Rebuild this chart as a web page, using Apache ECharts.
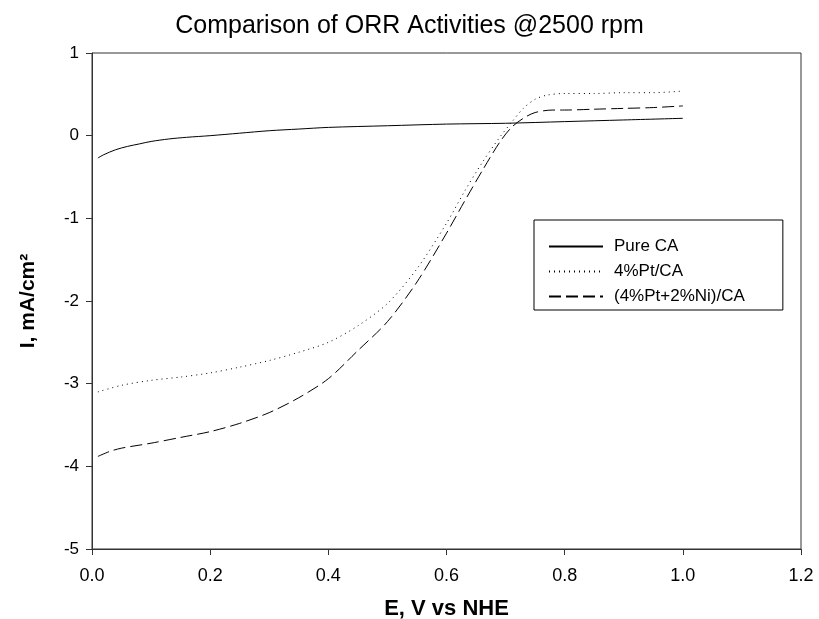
<!DOCTYPE html>
<html>
<head>
<meta charset="utf-8">
<script src="https://cdn.jsdelivr.net/npm/echarts@6/dist/echarts.min.js"></script>
<style>
  html, body { margin: 0; padding: 0; background: #fff; }
  #chart { width: 819px; height: 619px; }
</style>
</head>
<body>
<div id="chart"></div>
<script>
// 曲线数据 (E / V vs NHE, I / mA/cm2)
var pureX = [0.01, 0.02, 0.04, 0.06, 0.08, 0.1, 0.13, 0.16, 0.2, 0.25, 0.3, 0.35, 0.4, 0.5, 0.6, 0.7, 0.8, 0.9, 1.0];
var pureY = [-0.27, -0.23, -0.17, -0.13, -0.1, -0.07, -0.04, -0.02, 0.0, 0.03, 0.06, 0.08, 0.1, 0.12, 0.14, 0.15, 0.17, 0.19, 0.21];

var ptX = [0.01, 0.05, 0.1, 0.15, 0.2, 0.25, 0.3, 0.35, 0.4, 0.45, 0.5, 0.55, 0.6, 0.63, 0.66, 0.69, 0.71, 0.73, 0.75, 0.77, 0.8, 0.85, 0.9, 0.95, 1.0];
var ptY = [-3.10, -3.02, -2.96, -2.92, -2.87, -2.80, -2.72, -2.62, -2.50, -2.30, -2.03, -1.61, -1.06, -0.68, -0.33, -0.02, 0.16, 0.33, 0.44, 0.49, 0.51, 0.51, 0.52, 0.52, 0.54];

var ptniX = [0.01, 0.03, 0.05, 0.1, 0.15, 0.2, 0.25, 0.3, 0.35, 0.4, 0.45, 0.5, 0.55, 0.6, 0.63, 0.66, 0.69, 0.71, 0.73, 0.75, 0.78, 0.8, 0.85, 0.9, 0.95, 1.0];
var ptniY = [-3.88, -3.82, -3.78, -3.72, -3.65, -3.58, -3.48, -3.35, -3.17, -2.94, -2.60, -2.25, -1.77, -1.18, -0.80, -0.43, -0.08, 0.10, 0.21, 0.28, 0.31, 0.31, 0.32, 0.33, 0.34, 0.36];

var seriesNames = ['Pure CA', '4%Pt/CA', '(4%Pt+2%Ni)/CA'];

function pairs(xs, ys) {
    return xs.map(function (x, i) { return [x, ys[i]]; });
}

var myChart = echarts.init(document.getElementById('chart'));

var font = 'Liberation Sans, Arial, sans-serif';
var axisColor = '#333';

option = {
    backgroundColor: '#fff',
    animation: false,
    title: {
        text: 'Comparison of ORR Activities @2500 rpm',
        left: 'center',
        top: 9,
        textStyle: { fontFamily: font, fontSize: 25, fontWeight: 'normal', color: '#000' }
    },
    grid: {
        left: 92, right: 18, top: 53, bottom: 70,
        outerBoundsMode: 'none',
        show: true, borderColor: axisColor, borderWidth: 1
    },
    legend: {
        orient: 'vertical',
        left: 534, top: 220,
        padding: [18, 38, 5, 14],
        itemGap: 8,
        itemWidth: 54, itemHeight: 14,
        borderColor: '#000', borderWidth: 1,
        // 只画线, 不画圆点
        itemStyle: { opacity: 0 },
        textStyle: { fontFamily: font, fontSize: 17, color: '#000', width: 165, padding: [0, 0, 0, 6] },
        data: seriesNames
    },
    xAxis: {
        type: 'value',
        min: 0, max: 1.2, interval: 0.2,
        name: 'E, V vs NHE',
        nameLocation: 'middle',
        nameGap: 49,
        nameTextStyle: { fontFamily: font, fontSize: 22, fontWeight: 'bold', color: '#000' },
        splitLine: { show: false },
        axisLine: { onZero: false, lineStyle: { color: axisColor } },
        axisTick: { inside: false, length: 6, lineStyle: { color: axisColor } },
        axisLabel: {
            margin: 18, fontFamily: font, fontSize: 18, color: '#000',
            formatter: function (v) { return v.toFixed(1); }
        }
    },
    yAxis: {
        type: 'value',
        min: -5, max: 1, interval: 1,
        name: 'I, mA/cm²',
        nameLocation: 'middle',
        nameGap: 53,
        nameTextStyle: { fontFamily: font, fontSize: 21, fontWeight: 'bold', color: '#000' },
        splitLine: { show: false },
        axisLine: { onZero: false, lineStyle: { color: axisColor } },
        axisTick: { inside: false, length: 6, lineStyle: { color: axisColor } },
        axisLabel: { margin: 13, fontFamily: font, fontSize: 17, color: '#000' }
    },
    series: [
        {
            name: seriesNames[0], type: 'line', data: pairs(pureX, pureY),
            symbol: 'none', smooth: 0.3,
            lineStyle: { color: '#000', width: 1, type: 'solid' },
            itemStyle: { color: '#000' }
        },
        {
            name: seriesNames[1], type: 'line', data: pairs(ptX, ptY),
            symbol: 'none', smooth: 0.3,
            lineStyle: { color: '#000', width: 1, type: [1, 4] },
            itemStyle: { color: '#000' }
        },
        {
            name: seriesNames[2], type: 'line', data: pairs(ptniX, ptniY),
            symbol: 'none', smooth: 0.3,
            lineStyle: { color: '#000', width: 1, type: [12, 5] },
            itemStyle: { color: '#000' }
        }
    ]
};

myChart.setOption(option);
</script>
</body>
</html>
